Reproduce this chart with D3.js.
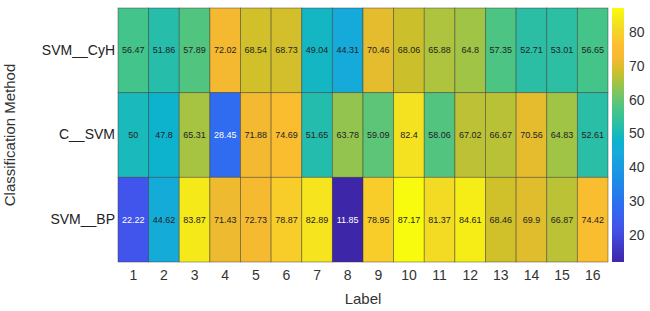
<!DOCTYPE html>
<html>
<head>
<meta charset="utf-8">
<script src="https://cdn.jsdelivr.net/npm/d3@7"></script>
<style>
  body { margin: 0; background: #fff; }
  svg text { font-family: "Liberation Sans", Arial, sans-serif; }
</style>
</head>
<body>
<div id="chart"></div>
<script>
// data
const labels = ['1', '2', '3', '4', '5', '6', '7', '8', '9', '10', '11', '12', '13', '14', '15', '16'];
const methods = ['SVM__CyH', 'C__SVM', 'SVM__BP'];
const svmCyH = [56.47, 51.86, 57.89, 72.02, 68.54, 68.73, 49.04, 44.31, 70.46, 68.06, 65.88, 64.8, 57.35, 52.71, 53.01, 56.65];
const cSvm = [50, 47.8, 65.31, 28.45, 71.88, 74.69, 51.65, 63.78, 59.09, 82.4, 58.06, 67.02, 66.67, 70.56, 64.83, 52.61];
const svmBp = [22.22, 44.62, 83.87, 71.43, 72.73, 78.87, 82.89, 11.85, 78.95, 87.17, 81.37, 84.61, 68.46, 69.9, 66.87, 74.42];
const colorTicks = [20, 30, 40, 50, 60, 70, 80];

const rows = [svmCyH, cSvm, svmBp];
const cells = [];
rows.forEach((vals, r) => vals.forEach((v, c) => cells.push({ m: methods[r], l: labels[c], v })));

// parula-like colormap (positions 0..1)
const cmapPos = [0, 0.13, 0.22, 0.32, 0.43, 0.48, 0.53, 0.59, 0.65, 0.70, 0.75, 0.80, 0.86, 0.92, 1];
const cmapCol = ['#3e26a8', '#4352ea', '#2f6cf0', '#1e8ce6', '#16aadb', '#0db4cc', '#25bdac', '#41c48c',
  '#6ec56a', '#9dc448', '#cfc02a', '#f5b931', '#fdc02f', '#f3da24', '#f9fb0e'];
const cmap = d3.scaleLinear().domain(cmapPos).range(cmapCol).interpolate(d3.interpolateRgb);

const allVals = rows.flat();
const vMin = d3.min(allVals);
const vMax = d3.max(allVals);
const norm = d3.scaleLinear().domain([vMin, vMax]).range([0, 1]);
const color = v => cmap(norm(v));

const W = 650, H = 311;
const margin = { top: 8, left: 118, right: 42, bottom: 49 };
const width = 608 - margin.left;
const height = H - margin.top - margin.bottom;

const svg = d3.select('#chart').append('svg')
  .attr('width', W)
  .attr('height', H);

const g = svg.append('g')
  .attr('transform', `translate(${margin.left}, ${margin.top})`);

const x = d3.scaleBand().domain(labels).range([0, width]);
const y = d3.scaleBand().domain(methods).range([0, height]);

// cells
g.selectAll('rect.cell')
  .data(cells)
  .join('rect')
  .attr('class', 'cell')
  .attr('x', d => x(d.l))
  .attr('y', d => y(d.m))
  .attr('width', x.bandwidth())
  .attr('height', y.bandwidth())
  .attr('fill', d => color(d.v))
  .attr('stroke', '#333')
  .attr('stroke-opacity', 0.55)
  .attr('stroke-width', 0.8);

g.selectAll('text.val')
  .data(cells)
  .join('text')
  .attr('class', 'val')
  .attr('x', d => x(d.l) + x.bandwidth() / 2)
  .attr('y', d => y(d.m) + y.bandwidth() / 2)
  .attr('dy', '0.35em')
  .attr('text-anchor', 'middle')
  .attr('font-size', 9)
  .attr('fill', d => d.v < 30 ? '#fff' : '#222')
  .text(d => d.v);

// axes
const xAxis = g.append('g')
  .attr('transform', `translate(0, ${height})`)
  .call(d3.axisBottom(x).tickSize(0).tickPadding(8));
xAxis.select('.domain').remove();
xAxis.selectAll('text').attr('font-size', 14).attr('fill', '#333');

const yAxis = g.append('g')
  .call(d3.axisLeft(y).tickSize(0).tickPadding(3));
yAxis.select('.domain').remove();
yAxis.selectAll('text').attr('font-size', 14).attr('fill', '#222');

g.append('text')
  .attr('x', width / 2)
  .attr('y', height + 42)
  .attr('text-anchor', 'middle')
  .attr('font-size', 15)
  .attr('fill', '#333')
  .text('Label');

svg.append('text')
  .attr('transform', `translate(15, ${margin.top + height / 2}) rotate(-90)`)
  .attr('text-anchor', 'middle')
  .attr('font-size', 15)
  .attr('fill', '#333')
  .text('Classification Method');

// colorbar
const cbX = 612, cbW = 12;
const cy = d3.scaleLinear().domain([vMin, vMax]).range([margin.top + height, margin.top]);
const grad = svg.append('defs').append('linearGradient')
  .attr('id', 'cb')
  .attr('x1', 0).attr('y1', 1).attr('x2', 0).attr('y2', 0);
cmapPos.forEach((t, i) => {
  grad.append('stop')
    .attr('offset', t)
    .attr('stop-color', cmapCol[i]);
});
svg.append('rect')
  .attr('x', cbX)
  .attr('y', margin.top)
  .attr('width', cbW)
  .attr('height', height)
  .attr('fill', 'url(#cb)');

const cAxis = svg.append('g')
  .attr('transform', `translate(${cbX + cbW}, 0)`)
  .call(d3.axisRight(cy).tickValues(colorTicks).tickSize(0).tickPadding(5));
cAxis.select('.domain').remove();
cAxis.selectAll('text').attr('font-size', 14).attr('fill', '#333');
</script>
</body>
</html>
